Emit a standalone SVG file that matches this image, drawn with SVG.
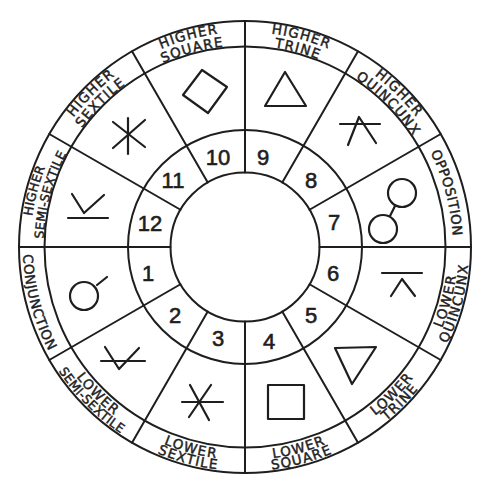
<svg xmlns="http://www.w3.org/2000/svg" width="486" height="500" viewBox="0 0 486 500">
<style>
.ln{fill:none;stroke:#1e1e1e;stroke-width:2;stroke-linecap:round}
.sym{fill:none;stroke:#1e1e1e;stroke-width:2.2;stroke-linecap:round;stroke-linejoin:round}
.num{font-family:"Liberation Sans",Arial,sans-serif;font-size:22px;fill:#1e1e1e;stroke:#1e1e1e;stroke-width:0.6;text-anchor:middle}
.lbl{font-family:"DejaVu Sans","Liberation Sans",sans-serif;font-size:13.5px;letter-spacing:1.2px;fill:#1e1e1e;stroke:#1e1e1e;stroke-width:0.45;text-anchor:middle}
.sm{font-size:12.5px;letter-spacing:0.3px}
.tight{letter-spacing:0.4px}
</style>
<defs>
<path id="u1" d="M30 247 A215 215 0 1 1 460 247 A215 215 0 1 1 30 247"/>
<path id="u2" d="M43.5 247 A201.5 201.5 0 1 1 446.5 247 A201.5 201.5 0 1 1 43.5 247"/>
<path id="u0" d="M37 247 A208 208 0 1 1 453 247 A208 208 0 1 1 37 247"/>
<path id="d1" d="M32 247 A213 213 0 1 0 458 247 A213 213 0 1 0 32 247"/>
<path id="d2" d="M21 247 A224 224 0 1 0 469 247 A224 224 0 1 0 21 247"/>
<path id="d0" d="M23 247 A222 222 0 1 0 467 247 A222 222 0 1 0 23 247"/>
</defs>
<rect width="486" height="500" fill="#fff"/>
<g id="rings">
<circle class="ln" cx="245" cy="247" r="226"/>
<circle class="ln" cx="245" cy="247" r="200.5"/>
<circle class="ln" cx="245" cy="247" r="117"/>
<circle class="ln" cx="245" cy="247" r="74.5"/>
</g>
<g id="connectors">
<line class="ln" x1="319.5" y1="247" x2="471" y2="247"/>
<line class="ln" x1="309.52" y1="209.75" x2="440.72" y2="134"/>
<line class="ln" x1="282.25" y1="182.48" x2="358" y2="51.28"/>
<line class="ln" x1="245" y1="172.5" x2="245" y2="21"/>
<line class="ln" x1="207.75" y1="182.48" x2="132" y2="51.28"/>
<line class="ln" x1="180.48" y1="209.75" x2="49.28" y2="134"/>
<line class="ln" x1="170.5" y1="247" x2="19" y2="247"/>
<line class="ln" x1="180.48" y1="284.25" x2="49.28" y2="360"/>
<line class="ln" x1="207.75" y1="311.52" x2="132" y2="442.72"/>
<line class="ln" x1="245" y1="321.5" x2="245" y2="473"/>
<line class="ln" x1="282.25" y1="311.52" x2="358" y2="442.72"/>
<line class="ln" x1="309.52" y1="284.25" x2="440.72" y2="360"/>
</g>
<g id="house1">
<text class="num" x="148" y="281">1</text>
<circle class="sym" cx="84" cy="296" r="14"/>
<line class="sym" x1="97" y1="285" x2="107" y2="277"/>
<text class="lbl tight"><textPath href="#d0" startOffset="4.167%">CONJUNCTION</textPath></text>
</g>
<g id="house2">
<text class="num" x="175" y="323">2</text>
<polyline class="sym" points="105,347 119,369 139,348"/>
<line class="sym" x1="101" y1="361" x2="145" y2="361"/>
<text class="lbl"><textPath href="#d1" startOffset="12.5%">LOWER</textPath></text>
<text class="lbl sm"><textPath href="#d2" startOffset="12.5%">SEMI-SEXTILE</textPath></text>
</g>
<g id="house3">
<text class="num" x="218" y="346">3</text>
<line class="sym" x1="182" y1="402" x2="223" y2="402"/>
<line class="sym" x1="190" y1="385" x2="209" y2="420"/>
<line class="sym" x1="211" y1="385" x2="189" y2="417"/>
<text class="lbl"><textPath href="#d1" startOffset="20.833%">LOWER</textPath></text>
<text class="lbl"><textPath href="#d2" startOffset="20.833%">SEXTILE</textPath></text>
</g>
<g id="house4">
<text class="num" x="269" y="349">4</text>
<rect class="sym" x="268" y="385" width="36" height="34"/>
<text class="lbl"><textPath href="#d1" startOffset="29.167%">LOWER</textPath></text>
<text class="lbl"><textPath href="#d2" startOffset="29.167%">SQUARE</textPath></text>
</g>
<g id="house5">
<text class="num" x="311" y="323">5</text>
<polygon class="sym" points="335,348 376,347 352,384"/>
<text class="lbl"><textPath href="#d1" startOffset="37.5%">LOWER</textPath></text>
<text class="lbl"><textPath href="#d2" startOffset="37.5%">TRINE</textPath></text>
</g>
<g id="house6">
<text class="num" x="333" y="281">6</text>
<line class="sym" x1="382" y1="273" x2="422" y2="273"/>
<polyline class="sym" points="391,296 402,279 415,296"/>
<text class="lbl"><textPath href="#d1" startOffset="45.833%">LOWER</textPath></text>
<text class="lbl"><textPath href="#d2" startOffset="45.833%">QUINCUNX</textPath></text>
</g>
<g id="house7">
<text class="num" x="334" y="230">7</text>
<circle class="sym" cx="402" cy="193" r="14"/>
<circle class="sym" cx="383" cy="229" r="14"/>
<line class="sym" x1="395" y1="206" x2="390" y2="216"/>
<text class="lbl tight"><textPath href="#u0" startOffset="45.833%">OPPOSITION</textPath></text>
</g>
<g id="house8">
<text class="num" x="311" y="188">8</text>
<line class="sym" x1="340" y1="124" x2="380" y2="124"/>
<polyline class="sym" points="348,145 359,117 376,143"/>
<text class="lbl"><textPath href="#u1" startOffset="37.5%">HIGHER</textPath></text>
<text class="lbl"><textPath href="#u2" startOffset="37.5%">QUINCUNX</textPath></text>
</g>
<g id="house9">
<text class="num" x="263" y="165">9</text>
<polygon class="sym" points="285,72 265,106 306,106"/>
<text class="lbl"><textPath href="#u1" startOffset="29.167%">HIGHER</textPath></text>
<text class="lbl"><textPath href="#u2" startOffset="29.167%">TRINE</textPath></text>
</g>
<g id="house10">
<text class="num" x="218" y="165">10</text>
<polygon class="sym" points="202,70 227,87 208,113 183,95"/>
<text class="lbl"><textPath href="#u1" startOffset="20.833%">HIGHER</textPath></text>
<text class="lbl"><textPath href="#u2" startOffset="20.833%">SQUARE</textPath></text>
</g>
<g id="house11">
<text class="num" x="173" y="188">11</text>
<line class="sym" x1="128" y1="118" x2="128" y2="154"/>
<line class="sym" x1="113" y1="122" x2="145" y2="147"/>
<line class="sym" x1="145" y1="120" x2="113" y2="148"/>
<text class="lbl"><textPath href="#u1" startOffset="12.5%">HIGHER</textPath></text>
<text class="lbl"><textPath href="#u2" startOffset="12.5%">SEXTILE</textPath></text>
</g>
<g id="house12">
<text class="num" x="150" y="231">12</text>
<polyline class="sym" points="72,194 84,213 104,195"/>
<line class="sym" x1="68" y1="218" x2="108" y2="218"/>
<text class="lbl sm"><textPath href="#u1" startOffset="4.167%">HIGHER</textPath></text>
<text class="lbl sm"><textPath href="#u2" startOffset="4.167%">SEMI-SEXTILE</textPath></text>
</g>
</svg>
